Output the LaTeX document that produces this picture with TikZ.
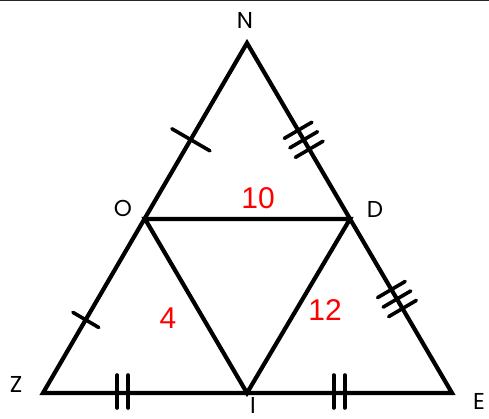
\documentclass[tikz,border=0pt]{standalone}
\usepackage{fontspec}
\newfontfamily\ptfont{Poppins}
\newfontfamily\numfont{Liberation Sans}
\usetikzlibrary{calc}

\begin{document}
\begin{tikzpicture}[x=1pt,y=-1pt,
  side/.style={line width=4.2pt, line join=miter},
  tick/.style={line width=3.6pt, line cap=round},
  pt/.style={inner sep=0pt, font=\ptfont\fontsize{23}{23}\selectfont},
  len/.style={inner sep=0pt, text=red, font=\numfont\fontsize{30}{30}\selectfont}]
  \useasboundingbox (0,0) rectangle (489,419);
  \draw[line width=1.5pt, black!85] (0,0.75) -- (489,0.75);

  % vertices
  \coordinate (N) at (247,43);
  \coordinate (Z) at (43,393);
  \coordinate (E) at (452,393);
  \coordinate (O) at (145,219);
  \coordinate (D) at (350,219);
  \coordinate (I) at (247,393);

  \draw[side] (N) -- (Z) -- (E) -- cycle;
  \draw[side] (O) -- (D) -- (I) -- cycle;

  % single ticks
  \coordinate (t1) at ($(N)!0.55!(O)$);
  \draw[tick] ($(t1)!22pt!90:(O)$) -- ($(t1)!22pt!-90:(O)$);
  \coordinate (t2) at ($(O)!0.58!(Z)$);
  \draw[tick] ($(t2)!15pt!90:(Z)$) -- ($(t2)!15pt!-90:(Z)$);

  % triple ticks
  \coordinate (t3) at ($(N)!0.55!(D)$);
  \foreach \d in {-11,0,11} {
    \coordinate (c) at ($(t3)!\d pt!(D)$);
    \draw[tick] ($(c)!16pt!90:(D)$) -- ($(c)!16pt!-90:(D)$);
  }
  \coordinate (t4) at ($(D)!0.46!(E)$);
  \foreach \d in {-11,0,11} {
    \coordinate (c) at ($(t4)!\d pt!(E)$);
    \draw[tick] ($(c)!16pt!90:(E)$) -- ($(c)!16pt!-90:(E)$);
  }

  % double ticks
  \coordinate (t5) at ($(Z)!0.39!(I)$);
  \coordinate (t6) at ($(I)!0.45!(E)$);
  \foreach \d in {-5.5,5.5} {
    \draw[tick] ($(t5)+(\d,-18)$) -- ($(t5)+(\d,15)$);
    \draw[tick] ($(t6)+(\d,-18)$) -- ($(t6)+(\d,15)$);
  }

  % labels
  \node[pt] (lN) at (245,20) {N};
  \node[pt] (lO) at (123,208) {O};
  \node[pt] (lD) at (375,209) {D};
  \node[pt] (lZ) at (16,384) {Z};
  \node[pt] (lE) at (479,401) {E};
  \node[pt] (lI) at (253,405) {I};

  \node[len] (l10) at (258,198) {10};
  \node[len] (l4) at (168,318) {4};
  \node[len] (l12) at (325,310) {12};
\end{tikzpicture}
\end{document}
